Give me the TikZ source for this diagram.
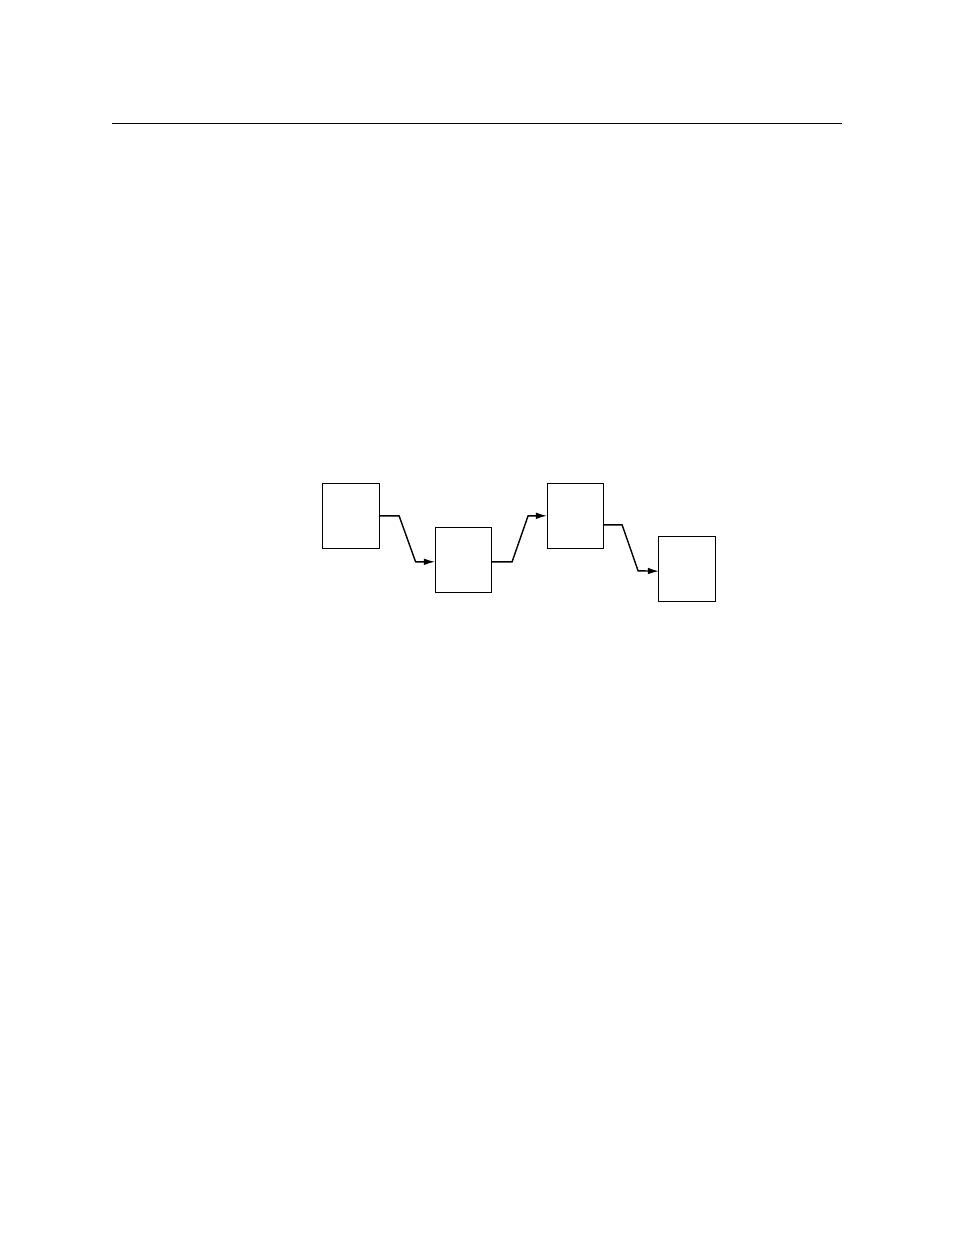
\documentclass[tikz,border=0pt]{standalone}
\usepackage{amsmath}
\usetikzlibrary{arrows, arrows.meta}
\usetikzlibrary{calc}
\tikzset{box/.style={draw=black, line width=0.6pt, minimum width=1.28cm, minimum height=1.47cm, inner sep=0pt, outer sep=0pt}}
\tikzset{link/.style={-{Latex[length=2.5mm, width=1.5mm]}, line width=0.9pt}}

\begin{document}
\begin{tikzpicture}[>=latex, x=0.02263cm, y=-0.02263cm]
\useasboundingbox (0,0) rectangle (954,1235);
\draw[line width=0.6pt] (112,123.5) -- (842,123.5);
\node[box] (b1) at (350.8,515.8) {};
\node[box] (b2) at (463.3,559.8) {};
\node[box] (b3) at (575.3,515.8) {};
\node[box] (b4) at (687.2,569.2) {};
\draw[link] (b1.east) -- ++(20,0) -- ++(16.5,46) -- ($(b2.west)+(0,2)$);
\draw[link] ($(b2.east)+(0,2)$) -- ++(20.5,0) -- ++(16,-46) -- (b3.west);
\draw[link] ($(b3.east)+(0,9)$) -- ++(18.5,0) -- ++(16,46) -- ($(b4.west)+(0,2)$);


\end{tikzpicture}
\end{document}
